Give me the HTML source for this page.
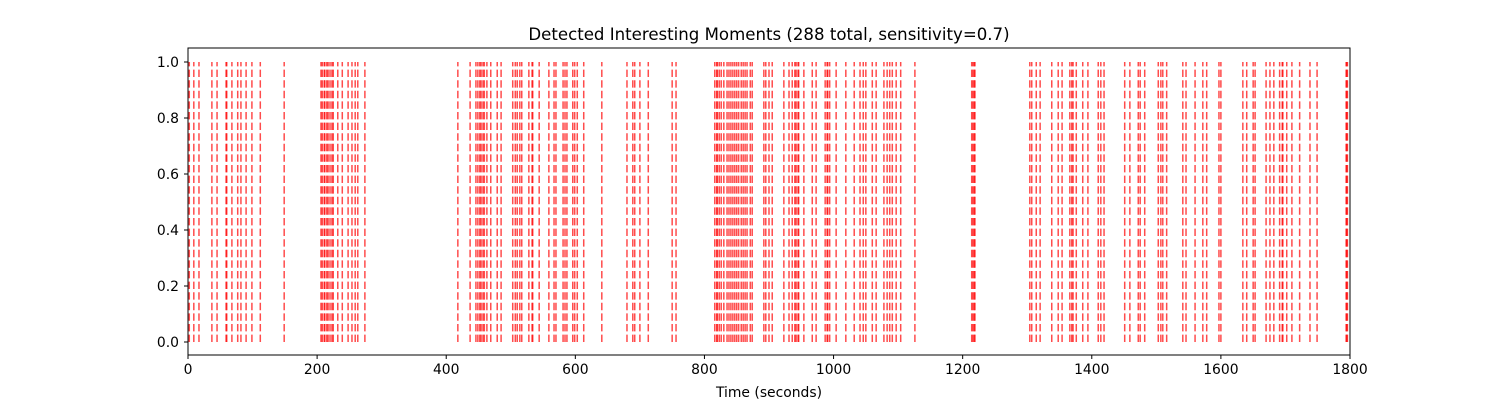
<!DOCTYPE html>
<html><head><meta charset="utf-8"><style>
body{margin:0;background:#fff;}
svg text{font-family:"DejaVu Sans","Liberation Sans",sans-serif;fill:#000;}
</style></head><body>
<svg id="chart" width="1500" height="400" xmlns="http://www.w3.org/2000/svg">
<rect width="1500" height="400" fill="#fff"/>
<text x="769" y="40" font-size="16.6" text-anchor="middle">Detected Interesting Moments (288 total, sensitivity=0.7)</text>
<g id="marks"></g>
<g id="axes"></g>
<text x="769" y="397" font-size="13.9" text-anchor="middle">Time (seconds)</text>
</svg>
<script>
const moments = [2,9,17,37,45,59,60,68,77,82,90,99,112,149,206,208,211,212,215,217,220,223,225,232,239,248,254,259,263,274,418,437,446,449,452,457,
454,459,463,469,479,485,503,507,510,514,517,528,533,534,544,559,567,570,581,584,587,596,599,603,613,641,680,689,692,700,713,750,756,816,819,820,823,826,830,835,838,841,844,847,850,853,857,860,863,866,871,874,892,895,900,905,
923,931,936,940,942,945,946,954,967,973,987,990,991,994,1004,1019,1032,1041,1046,1050,1060,1066,1078,1083,1087,1091,1097,1104,1126,1214,1216,1218,1219,1304,1307,1314,1320,1338,1348,1354,1366,1369,
1371,1376,1386,1394,1410,1414,1419,1451,1459,1472,1475,1482,1503,1507,1510,1516,1541,1546,1560,1572,1578,1597,1600,1634,1640,1650,1653,1670,1676,1682,1691,1695,1696,1702,1710,1722,1738,1749,1794,1795,1796];
const xTicks = [0,200,400,600,800,1000,1200,1400,1600,1800];
const yTicks = [0.0,0.2,0.4,0.6,0.8,1.0];
const X0=188,X1=1350,Y0=342,Y1=62;
const xs=v=>X0+(v/1800)*(X1-X0);
const ys=v=>Y0-v*(Y0-Y1);
const NS="http://www.w3.org/2000/svg";
const marks=document.getElementById('marks');
moments.forEach(m=>{
  const l=document.createElementNS(NS,'line');
  
  
  l.setAttribute('x1',xs(m));l.setAttribute('x2',xs(m));
  l.setAttribute('y1',ys(0));l.setAttribute('y2',ys(1));
  l.setAttribute('stroke','red');l.setAttribute('stroke-opacity','0.7');
  l.setAttribute('stroke-width','1.5');l.setAttribute('stroke-dasharray','7.4,3.2');
  marks.appendChild(l);
});
const axes=document.getElementById('axes');
const frame=document.createElementNS(NS,'rect');


frame.setAttribute('x',188);frame.setAttribute('y',48);frame.setAttribute('width',1162);frame.setAttribute('height',307);
frame.setAttribute('fill','none');frame.setAttribute('stroke','#000');frame.setAttribute('stroke-width','1');
axes.appendChild(frame);
xTicks.forEach(t=>{
  const x=xs(t);
  const tk=document.createElementNS(NS,'line');
  
  
  tk.setAttribute('x1',x);tk.setAttribute('x2',x);tk.setAttribute('y1',355);tk.setAttribute('y2',359);tk.setAttribute('stroke','#000');
  axes.appendChild(tk);
  const tx=document.createElementNS(NS,'text');
  
  
  tx.setAttribute('x',x);tx.setAttribute('y',374);tx.setAttribute('font-size','13.9');tx.setAttribute('text-anchor','middle');
  tx.textContent=t;axes.appendChild(tx);
});
yTicks.forEach(t=>{
  const y=ys(t);
  const tk=document.createElementNS(NS,'line');
  
  
  tk.setAttribute('x1',184);tk.setAttribute('x2',188);tk.setAttribute('y1',y);tk.setAttribute('y2',y);tk.setAttribute('stroke','#000');
  axes.appendChild(tk);
  const tx=document.createElementNS(NS,'text');
  
  
  tx.setAttribute('x',179);tx.setAttribute('y',y+5);tx.setAttribute('font-size','13.9');tx.setAttribute('text-anchor','end');
  tx.textContent=t.toFixed(1);axes.appendChild(tx);
});
</script>
</body></html>
